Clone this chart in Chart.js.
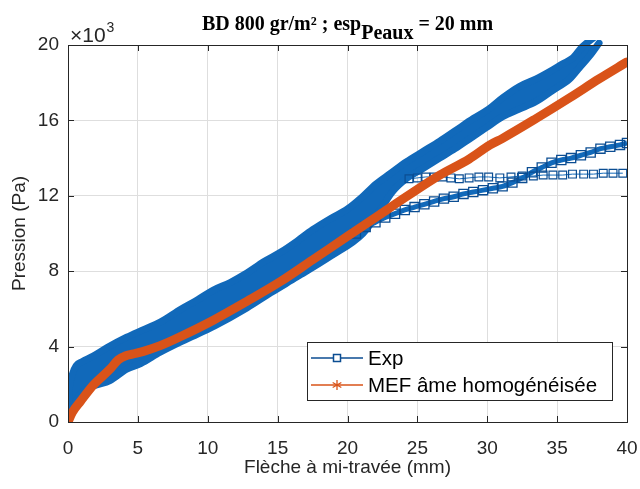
<!DOCTYPE html>
<html>
<head>
<meta charset="utf-8">
<script src="https://cdn.jsdelivr.net/npm/chart.js@4.4.1/dist/chart.umd.min.js"></script>
<style>
  html, body { margin: 0; padding: 0; background: #fff; }
  #wrap { width: 640px; height: 489px; }
</style>
</head>
<body>
<div id="wrap"><canvas id="chart" width="640" height="489"></canvas></div>
<script>
// Flèche (mm) / Pression (Pa)
const xTicks = [0, 5, 10, 15, 20, 25, 30, 35, 40];
const yTicks = [0, 4000, 8000, 12000, 16000, 20000];

// MEF âme homogénéisée
const mefX = [0, 0.3, 0.9, 1.8, 3.0, 3.6, 4.1, 4.6, 5.4, 6.6, 8.1, 10.4, 12.8, 15.2, 17.5, 20.0, 22.3, 24.2, 26.6, 28.7, 30.2, 31.1, 33.5, 35.9, 38.0, 40.0];
const mefY = [0, 500, 1100, 1950, 2800, 3300, 3500, 3600, 3750, 4050, 4550, 5400, 6400, 7450, 8600, 9850, 11000, 11950, 13100, 13950, 14700, 15050, 16100, 17200, 18200, 19100];

// Exp - main loading band, upper and lower envelope
const expUpX = [0, 0.05, 0.3, 0.6, 1.0, 1.8, 2.8, 4.2, 5.4, 6.6, 8.1, 9.3, 10.4, 11.6, 12.8, 14.0, 15.2, 16.4, 17.5, 18.8, 20.0, 21.0, 22.0, 23.1, 24.2, 25.4, 26.6, 27.8, 29.0, 30.1, 31.1, 32.3, 33.5, 34.5, 35.4, 36.1, 36.8, 38.0];
const expUpY = [0, 1300, 2500, 3000, 3200, 3500, 3950, 4500, 4900, 5300, 6000, 6500, 7000, 7400, 7900, 8500, 9000, 9600, 10200, 10800, 11300, 11900, 12600, 13200, 13800, 14350, 14900, 15500, 16100, 16600, 17200, 17800, 18200, 18600, 19000, 19300, 19900, 20600];
const expLowX = [0, 0.4, 0.9, 1.8, 3.0, 4.2, 5.2, 6.6, 8.5, 10.5, 12.8, 14.5, 16.4, 18.8, 21.1, 22.3, 23.2, 24.2, 25.4, 26.6, 27.7, 28.7, 29.9, 31.1, 32.3, 33.5, 34.7, 35.9, 36.6, 37.3, 38.0];
const expLowY = [0, 800, 1500, 1900, 2200, 2800, 3100, 3700, 4400, 5100, 6050, 6850, 7700, 8800, 10000, 11200, 12200, 12900, 13450, 14000, 14500, 15000, 15600, 16200, 16600, 17000, 17600, 18200, 18800, 19400, 20100];

// Exp - lower branch leaving the band near 21 mm
const expBrX = [20.6, 21.3, 22.0, 22.7, 23.4, 24.1, 24.8, 25.5, 26.2, 26.9, 27.6, 28.3, 29.0, 29.7, 30.4, 31.1, 31.8, 32.5, 33.2, 33.9, 34.6, 35.3, 36.0, 36.7, 37.4, 38.1, 38.8, 39.5, 40.0];
const expBrY = [10000, 10350, 10600, 10850, 11050, 11250, 11400, 11550, 11700, 11850, 11950, 12100, 12200, 12300, 12400, 12500, 12700, 12950, 13250, 13500, 13750, 13900, 14000, 14150, 14300, 14500, 14600, 14700, 14800];

// Exp - flat branch around 13e3 Pa
const expFlatX = [24.4, 25.0, 25.6, 26.2, 26.8, 27.4, 28.0, 28.7, 29.4, 30.1, 30.9, 31.7, 32.5, 33.3, 34.0, 34.7, 35.4, 36.1, 36.9, 37.6, 38.3, 39.0, 39.7];
const expFlatY = [12900, 12950, 13000, 13000, 13000, 12950, 12900, 12950, 13000, 13000, 12950, 13000, 13050, 13050, 13100, 13100, 13100, 13150, 13150, 13150, 13200, 13200, 13200];

const BLUE = '#1169ba';
const BLUE_DARK = '#0b4d92';
const ORANGE = '#d95319';
const FONT = 'Liberation Sans, Arial, sans-serif';

function pts(xs, ys) {
    return xs.map((x, i) => ({ x: x, y: ys[i] }));
}

const decor = {
    id: 'decor',
    afterDraw(chart) {
        const ctx = chart.ctx;
        const a = chart.chartArea;
        const sx = chart.scales.x, sy = chart.scales.y;
        ctx.save();

        // axes box + inward ticks
        ctx.strokeStyle = '#262626';
        ctx.lineWidth = 1;
        ctx.strokeRect(Math.round(a.left) + 0.5, Math.round(a.top) + 0.5, Math.round(a.right - a.left), Math.round(a.bottom - a.top));
        ctx.beginPath();
        xTicks.forEach(v => {
            const px = Math.round(sx.getPixelForValue(v)) + 0.5;
            ctx.moveTo(px, a.bottom); ctx.lineTo(px, a.bottom - 6);
            ctx.moveTo(px, a.top); ctx.lineTo(px, a.top + 6);
        });
        yTicks.forEach(v => {
            const py = Math.round(sy.getPixelForValue(v)) + 0.5;
            ctx.moveTo(a.left, py); ctx.lineTo(a.left + 6, py);
            ctx.moveTo(a.right, py); ctx.lineTo(a.right - 6, py);
        });
        ctx.stroke();

        // exponent label
        ctx.fillStyle = '#262626';
        ctx.textBaseline = 'alphabetic';
        ctx.textAlign = 'left';
        ctx.font = '21px ' + FONT;
        ctx.fillText('\u00d710', 70, 42);
        const w10 = ctx.measureText('\u00d710').width;
        ctx.font = '14px ' + FONT;
        ctx.fillText('3', 70 + w10 + 1, 32);

        // title with subscript
        const mainA = 'BD 800 gr/m\u00b2 ; esp';
        const sub = 'Peaux';
        const mainB = ' = 20 mm';
        ctx.font = 'bold 20px Liberation Serif, Times New Roman, serif';
        const wA = ctx.measureText(mainA).width;
        const wS = ctx.measureText(sub).width;
        const wB = ctx.measureText(mainB).width;
        let tx = (a.left + a.right) / 2 - (wA + wS + wB) / 2;
        ctx.fillStyle = '#000';
        ctx.fillText(mainA, tx, 30);
        ctx.fillText(sub, tx + wA, 39);
        ctx.fillText(mainB, tx + wA + wS, 30);

        // legend box
        const lx = 307, ly = 342, lw = 305, lh = 58;
        ctx.fillStyle = '#fff';
        ctx.fillRect(lx, ly, lw, lh);
        ctx.strokeStyle = '#262626';
        ctx.lineWidth = 1;
        ctx.strokeRect(lx + 0.5, ly + 0.5, lw, lh);
        const rows = [
            { label: 'Exp', color: BLUE_DARK, y: 358, marker: 'square' },
            { label: 'MEF \u00e2me homog\u00e9n\u00e9is\u00e9e', color: ORANGE, y: 385, marker: 'star' }
        ];
        rows.forEach(r => {
            ctx.strokeStyle = r.color;
            ctx.lineWidth = 1.5;
            ctx.beginPath();
            ctx.moveTo(311, r.y); ctx.lineTo(363, r.y);
            ctx.stroke();
            if (r.marker === 'square') {
                ctx.fillStyle = '#fff';
                ctx.fillRect(333, r.y - 4, 8, 8);
                ctx.strokeRect(333.5, r.y - 3.5, 7, 7);
            } else {
                ctx.lineWidth = 1.3;
                ctx.beginPath();
                for (let k = 0; k < 3; k++) {
                    const ang = k * Math.PI / 3 + Math.PI / 2;
                    ctx.moveTo(337 - 5 * Math.cos(ang), r.y - 5 * Math.sin(ang));
                    ctx.lineTo(337 + 5 * Math.cos(ang), r.y + 5 * Math.sin(ang));
                }
                ctx.stroke();
            }
            ctx.fillStyle = '#000';
            ctx.font = '20.5px ' + FONT;
            ctx.textBaseline = 'middle';
            ctx.fillText(r.label, 368, r.y + 1);
        });
        ctx.restore();
    }
};

const ctx = document.getElementById('chart').getContext('2d');
new Chart(ctx, {
    type: 'line',
    data: {
        datasets: [
            {
                label: 'MEF âme homogénéisée',
                data: pts(mefX, mefY),
                borderColor: ORANGE,
                borderWidth: 9,
                borderCapStyle: 'round',
                borderJoinStyle: 'round',
                pointRadius: 0,
                fill: false,
                cubicInterpolationMode: 'monotone'
            },
            {
                label: 'Exp (flat)',
                data: pts(expFlatX, expFlatY),
                borderColor: BLUE,
                borderWidth: 1,
                pointStyle: 'rect',
                pointRadius: 5.5,
                pointBorderColor: BLUE_DARK,
                pointBorderWidth: 1.2,
                pointBackgroundColor: 'rgba(255,255,255,0)',
                fill: false
            },
            {
                label: 'Exp (branch)',
                data: pts(expBrX, expBrY),
                borderColor: BLUE,
                borderWidth: 5,
                pointStyle: 'rect',
                pointRadius: 6.5,
                pointBorderColor: BLUE_DARK,
                pointBorderWidth: 1.3,
                pointBackgroundColor: 'rgba(255,255,255,0)',
                fill: false,
                cubicInterpolationMode: 'monotone'
            },
            {
                label: 'Exp',
                data: pts(expUpX, expUpY),
                borderColor: BLUE,
                borderWidth: 7,
                borderJoinStyle: 'round',
                borderCapStyle: 'round',
                pointRadius: 0,
                fill: false,
                clip: { left: 0, top: 5, right: 0, bottom: 0 },
                cubicInterpolationMode: 'monotone'
            },
            {
                label: 'Exp (low)',
                data: pts(expLowX, expLowY),
                borderColor: BLUE,
                borderWidth: 7,
                borderJoinStyle: 'round',
                borderCapStyle: 'round',
                pointRadius: 0,
                backgroundColor: BLUE,
                fill: 3,
                clip: { left: 0, top: 5, right: 0, bottom: 0 },
                cubicInterpolationMode: 'monotone'
            }
        ]
    },
    options: {
        responsive: false,
        animation: false,
        layout: { padding: { top: 45, right: 13, left: 0, bottom: 0 } },
        plugins: {
            legend: { display: false },
            tooltip: { enabled: false },
            filler: { propagate: false }
        },
        scales: {
            x: {
                type: 'linear',
                min: 0,
                max: 40,
                afterFit: s => { s.height = 67; s.paddingLeft = 0; s.paddingRight = 0; },
                afterBuildTicks: s => { s.ticks = xTicks.map(v => ({ value: v })); },
                ticks: { font: { size: 19, family: FONT }, color: '#262626', padding: 15, maxRotation: 0 },
                grid: { color: '#dedede', drawTicks: false },
                border: { display: false },
                title: {
                    display: true,
                    text: 'Flèche à mi-travée (mm)',
                    font: { size: 19, family: FONT },
                    color: '#262626',
                    padding: { top: 10, bottom: 10 }
                }
            },
            y: {
                type: 'linear',
                min: 0,
                max: 20000,
                afterFit: s => { s.width = 68; s.paddingTop = 0; s.paddingBottom = 0; },
                afterBuildTicks: s => { s.ticks = yTicks.map(v => ({ value: v })); },
                ticks: {
                    font: { size: 19, family: FONT },
                    color: '#262626',
                    padding: 9,
                    callback: v => String(v / 1000)
                },
                grid: { color: '#dedede', drawTicks: false },
                border: { display: false },
                title: {
                    display: true,
                    text: 'Pression (Pa)',
                    font: { size: 19, family: FONT },
                    color: '#262626',
                    padding: { top: 8, bottom: 8 }
                }
            }
        }
    },
    plugins: [decor]
});
</script>
</body>
</html>
